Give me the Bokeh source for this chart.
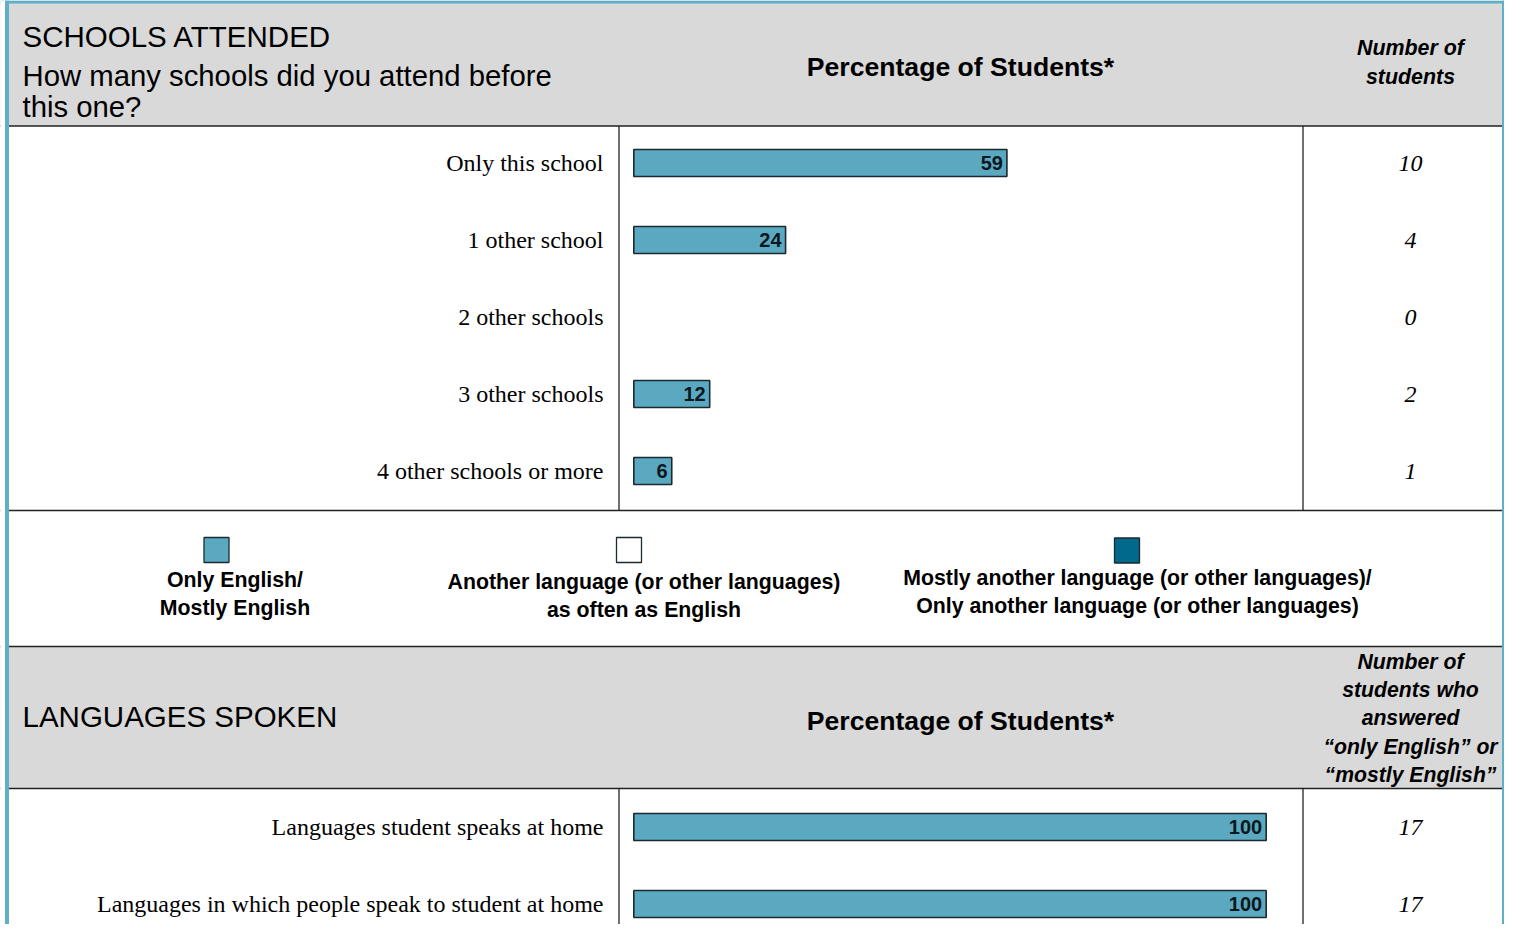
from bokeh.plotting import figure
from bokeh.models import Range1d, ColumnDataSource
from bokeh.core.properties import value
from bokeh.embed import file_html
from bokeh.resources import INLINE

# ---------------- data ----------------
section1_title = "SCHOOLS ATTENDED"
section1_question = ["How many schools did you attend before", "this one?"]
school_categories = ["Only this school", "1 other school", "2 other schools",
                     "3 other schools", "4 other schools or more"]
school_percent = [59, 24, 0, 12, 6]
school_counts = [10, 4, 0, 2, 1]

section2_title = "LANGUAGES SPOKEN"
language_categories = ["Languages student speaks at home",
                       "Languages in which people speak to student at home"]
language_only_english = [100, 100]
language_as_often = [0, 0]
language_mostly_other = [0, 0]
language_counts = [17, 17]

legend_labels = [["Only English/", "Mostly English"],
                 ["Another language (or other languages)", "as often as English"],
                 ["Mostly another language (or other languages)/",
                  "Only another language (or other languages)"]]
legend_colors = ["#5ba9c1", "#ffffff", "#00698c"]

pct_header = "Percentage of Students*"
count_header1 = ["Number of", "students"]
count_header2 = ["Number of", "students who", "answered",
                 "\u201conly English\u201d or", "\u201cmostly English\u201d"]

# ---------------- layout (pixels) ----------------
X0, X1, Y0, Y1 = 0, 1504, 0, 924
BAR_ZERO_PX, BAR_FULL_PX = 633.3, 1265.7
px_per_pct = (BAR_FULL_PX - BAR_ZERO_PX) / 100.0
PCT_START = (X0 - BAR_ZERO_PX) / px_per_pct
PCT_END = (X1 - BAR_ZERO_PX) / px_per_pct
ROW_H = 77
S1_ROW0 = 162.5
S2_ROW0 = 826.5
BAR_H = 27
DIV1, DIV2 = 618.5, 1302.5
COUNT_X = 1410
LABEL_X = 603

SANS = value("Liberation Sans")
SERIF = value("Liberation Serif")
BAR_COLORS = legend_colors
TEAL = "#5fafc7"
GRAY = "#d9d9d9"
LINE = "#222222"

p = figure(width=1504, height=924, x_range=Range1d(X0, X1), y_range=Range1d(Y1, Y0),
           output_backend="svg", toolbar_location=None,
           x_axis_location=None, y_axis_location=None, min_border=0,
           outline_line_color=None, background_fill_color="white",
           border_fill_color="white")
p.xgrid.grid_line_color = None
p.ygrid.grid_line_color = None
p.extra_x_ranges = {"pct": Range1d(PCT_START, PCT_END)}

# header bands
p.quad(left=[X0, X0], right=[X1, X1], top=[Y0, 646], bottom=[125.5, 788],
       fill_color=GRAY, line_color=None)

# horizontal rules
p.segment(x0=[X0] * 4, x1=[X1] * 4, y0=[125.5, 510, 646, 788], y1=[125.5, 510, 646, 788],
          line_color=LINE, line_width=1.6)
# vertical dividers
p.segment(x0=[DIV1, DIV2, DIV1, DIV2], x1=[DIV1, DIV2, DIV1, DIV2],
          y0=[125.5, 125.5, 788, 788], y1=[510, 510, Y1, Y1],
          line_color=LINE, line_width=1.3)

# outer teal frame
p.segment(x0=[6.5, X1 - 1.25, X0], x1=[6.5, X1 - 1.25, X1],
          y0=[Y0, Y0, 1.5], y1=[Y1, Y1, 1.5],
          line_color=TEAL, line_width=[4, 2.5, 3])
p.quad(left=[X0], right=[4.5], top=[Y0], bottom=[Y1], fill_color="white", line_color=None)

# ---------- header 1 ----------
p.text(x=[22], y=[36], text=[section1_title], text_font=SANS, text_font_size="29.5px",
       text_align="left", text_baseline="middle", text_color="black")
p.text(x=[22, 22], y=[75, 106], text=section1_question, text_font=SANS,
       text_font_size="29.3px", text_align="left", text_baseline="middle", text_color="black")
p.text(x=[960], y=[66], text=[pct_header], text_font=SANS, text_font_size="26.6px",
       text_font_style="bold", text_align="center", text_baseline="middle", text_color="black")
p.text(x=[COUNT_X] * len(count_header1), y=[47 + 29 * i for i in range(len(count_header1))],
       text=count_header1, text_font=SANS, text_font_size="21.4px",
       text_font_style="bold italic", text_align="center", text_baseline="middle",
       text_color="black")

# ---------- section 1 rows ----------
s1_y = [S1_ROW0 + i * ROW_H for i in range(len(school_categories))]
p.text(x=[LABEL_X] * len(school_categories), y=s1_y, text=school_categories,
       text_font=SERIF, text_font_size="24px", text_align="right",
       text_baseline="middle", text_color="black")
p.text(x=[COUNT_X] * len(school_counts), y=s1_y, text=[str(c) for c in school_counts],
       text_font=SERIF, text_font_size="24px", text_font_style="italic",
       text_align="center", text_baseline="middle", text_color="black")

s1_bars = ColumnDataSource(dict(
    y=[y for y, v in zip(s1_y, school_percent) if v > 0],
    right=[v for v in school_percent if v > 0],
    label=[str(v) for v in school_percent if v > 0]))
p.hbar(y="y", left=0, right="right", height=BAR_H, source=s1_bars, x_range_name="pct",
       fill_color=BAR_COLORS[0], line_color="#1b2a31", line_width=1.6)
p.text(x="right", y="y", text="label", source=s1_bars, x_range_name="pct", x_offset=-4,
       text_font=SANS, text_font_size="20px", text_font_style="bold",
       text_align="right", text_baseline="middle", text_color="#0b1820")

# ---------- legend ----------
legend_x = [216, 628.5, 1126.5]
legend_text_x = [234.5, 643.5, 1137]
legend_text_y = [[579, 607], [581, 609], [577, 605]]
p.rect(x=legend_x, y=[549.5, 549.5, 550], width=25, height=25,
       fill_color=legend_colors, line_color="#1b2a31", line_width=1.3)
for tx, ty, lines in zip(legend_text_x, legend_text_y, legend_labels):
    p.text(x=[tx] * len(lines), y=ty, text=lines, text_font=SANS, text_font_size="21.3px",
           text_font_style="bold", text_align="center", text_baseline="middle",
           text_color="black")

# ---------- header 2 ----------
p.text(x=[22], y=[716], text=[section2_title], text_font=SANS, text_font_size="29.5px",
       text_align="left", text_baseline="middle", text_color="black")
p.text(x=[960], y=[720], text=[pct_header], text_font=SANS, text_font_size="26.6px",
       text_font_style="bold", text_align="center", text_baseline="middle", text_color="black")
p.text(x=[COUNT_X] * len(count_header2), y=[661 + 28.2 * i for i in range(len(count_header2))],
       text=count_header2, text_font=SANS, text_font_size="21.2px",
       text_font_style="bold italic", text_align="center", text_baseline="middle",
       text_color="black")

# ---------- section 2 rows ----------
s2_y = [S2_ROW0 + i * ROW_H for i in range(len(language_categories))]
p.text(x=[LABEL_X] * len(language_categories), y=s2_y, text=language_categories,
       text_font=SERIF, text_font_size="24px", text_align="right",
       text_baseline="middle", text_color="black")
p.text(x=[COUNT_X] * len(language_counts), y=s2_y, text=[str(c) for c in language_counts],
       text_font=SERIF, text_font_size="24px", text_font_style="italic",
       text_align="center", text_baseline="middle", text_color="black")

seg_y, seg_l, seg_r, seg_c, seg_lab = [], [], [], [], []
for i, y in enumerate(s2_y):
    left = 0
    for series, color in zip([language_only_english, language_as_often, language_mostly_other],
                             BAR_COLORS):
        v = series[i]
        if v > 0:
            seg_y.append(y)
            seg_l.append(left)
            seg_r.append(left + v)
            seg_c.append(color)
            seg_lab.append(str(v))
        left += v
s2_bars = ColumnDataSource(dict(y=seg_y, left=seg_l, right=seg_r, color=seg_c, label=seg_lab))
p.hbar(y="y", left="left", right="right", height=BAR_H, source=s2_bars, x_range_name="pct",
       fill_color="color", line_color="#1b2a31", line_width=1.6)
p.text(x="right", y="y", text="label", source=s2_bars, x_range_name="pct", x_offset=-4,
       text_font=SANS, text_font_size="20px", text_font_style="bold",
       text_align="right", text_baseline="middle", text_color="#0b1820")

open("out.html", "w").write(file_html(p, INLINE))
